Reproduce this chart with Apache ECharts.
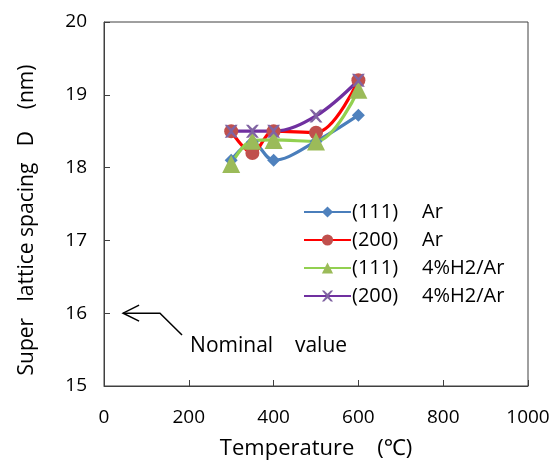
<!DOCTYPE html>
<html><head><meta charset="utf-8">
<script src="https://cdn.jsdelivr.net/npm/echarts@6/dist/echarts.min.js"></script>
<style>html,body{margin:0;padding:0;background:#fff}#c{width:554px;height:465px}</style>
</head><body><div id="c"></div>
<script>
const temps = [300, 350, 400, 500, 600];
const s111Ar = [18.1, 18.35, 18.1, 18.36, 18.72];
const s200Ar = [18.5, 18.2, 18.5, 18.48, 19.2];
const s111H2 = [18.05, 18.37, 18.38, 18.36, 19.07];
const s200H2 = [18.5, 18.5, 18.5, 18.71, 19.2];
const names = ['(111) Ar', '(200) Ar', '(111) 4%H2/Ar', '(200) 4%H2/Ar'];
const xTicks = [0, 200, 400, 600, 800, 1000];
const yTicks = [15, 16, 17, 18, 19, 20];
const nominal = 16;

const font = '"Open Sans", "Noto Sans", sans-serif';
const pair = a => temps.map((t, i) => [t, a[i]]);
function ser(name, data, color, lineColor, symbol, size) {
  return {
    name, type: 'line', data: pair(data), smooth: 0.35,
    symbol, symbolSize: size,
    itemStyle: { color },
    lineStyle: { color: lineColor, width: 3.2 },
    emphasis: { disabled: true }
  };
}
const chart = echarts.init(document.getElementById('c'));
chart.setOption({
  animation: false,
  textStyle: { fontFamily: font },
  grid: { left: 104, right: 26, top: 22, bottom: 79, show: true, borderColor: '#404040', borderWidth: 1 },
  xAxis: {
    type: 'value', min: xTicks[0], max: xTicks[xTicks.length - 1], interval: 200,
    name: 'Temperature    (℃)', nameLocation: 'middle', nameGap: 52,
    nameTextStyle: { fontSize: 22, color: '#000', fontFamily: font },
    axisLine: { lineStyle: { color: '#404040' } },
    axisTick: { inside: true, length: 6, lineStyle: { color: '#404040' } },
    axisLabel: { fontSize: 19, color: '#000', margin: 22, fontFamily: font, formatter: v => String(v) },
    splitLine: { show: false }
  },
  yAxis: {
    type: 'value', min: yTicks[0], max: yTicks[yTicks.length - 1], interval: 1,
    axisLine: { show: true, lineStyle: { color: '#404040' } },
    axisTick: { show: true, inside: true, length: 6, lineStyle: { color: '#404040' } },
    axisLabel: { fontSize: 19, color: '#000', margin: 17, fontFamily: font },
    splitLine: { show: false }
  },
  legend: {
    orient: 'vertical', left: 298, top: 197, itemWidth: 47, itemHeight: 14, itemGap: 8,
    data: names,
    formatter: n => { const p = n.split(' '); return '{a|' + p[0] + '}{b|' + p[1] + '}'; },
    textStyle: { fontSize: 20, color: '#000', fontFamily: font, padding: [0, 0, 0, -4],
      rich: { a: { width: 70, fontSize: 20, fontFamily: font }, b: { fontSize: 20, fontFamily: font } } }
  },
  series: [
    ser(names[0], s111Ar, '#4f81bd', '#4a7ebb', 'diamond', 13),
    ser(names[1], s200Ar, '#c0504d', '#ff0000', 'circle', 14),
    ser(names[2], s111H2, '#9bbb59', '#92d050', 'triangle', 18),
    ser(names[3], s200H2, '#8064a2', '#7030a0', 'path://M0,0 L2,0 L5,3 L8,0 L10,0 L6,5 L10,10 L8,10 L5,7 L2,10 L0,10 L4,5 Z', 13)
  ]
});
const P = (x, y) => chart.convertToPixel({ gridIndex: 0 }, [x, y]);
const tip = P(45, nominal), bend = P(132, nominal), end = P(184, 15.7), txt = P(203, 15.55);
const ttl = P(-180, 17.4);
chart.setOption({
  graphic: [
    { type: 'polyline', shape: { points: [tip, bend, end] }, style: { stroke: '#000', lineWidth: 1.5, fill: null } },
    { type: 'polyline', shape: { points: [[tip[0] + 16, tip[1] - 8], tip, [tip[0] + 16, tip[1] + 8]] }, style: { stroke: '#000', lineWidth: 1.5, fill: null } },
    { type: 'text', x: txt[0], y: txt[1], style: { text: 'Nominal    value', font: '21px ' + font, fill: '#000', textVerticalAlign: 'middle' } },
    { type: 'text', x: 27, y: 220, rotation: Math.PI / 2,
      style: { text: 'Super   lattice spacing   D    (nm)', font: '21px ' + font, fill: '#000', textAlign: 'center', textVerticalAlign: 'middle' } }
  ]
});
</script></body></html>
